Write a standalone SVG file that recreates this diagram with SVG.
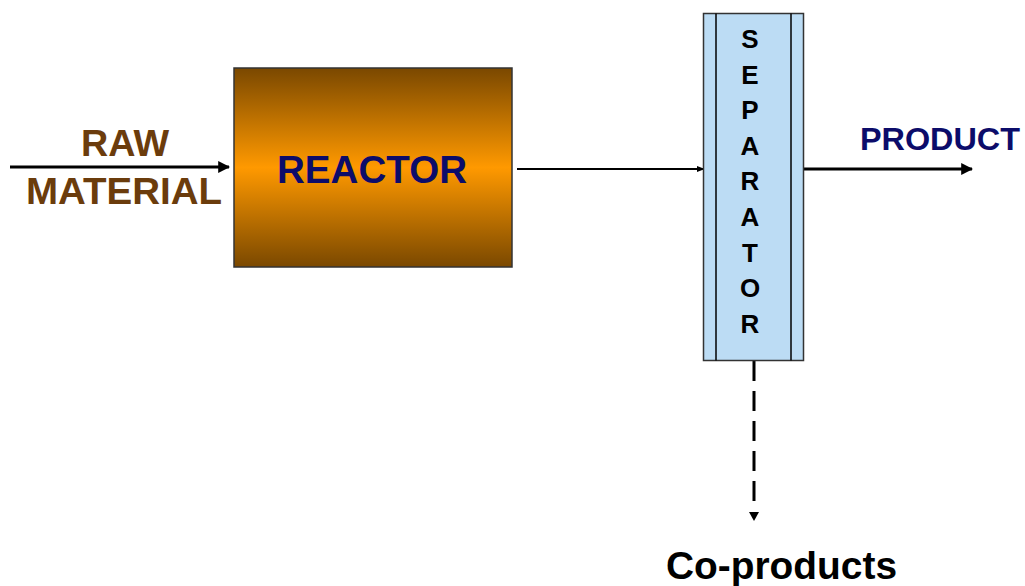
<svg xmlns="http://www.w3.org/2000/svg" width="1025" height="586" viewBox="0 0 1025 586">
<style>
text{font-family:"Liberation Sans",Arial,sans-serif;font-weight:bold}
.raw{fill:#6b3c0c;font-size:36px}
.navy{fill:#0c0c6a}
.sep{font-size:26px;fill:#000;text-anchor:middle}
.line{stroke:#000;fill:none}
</style>
<defs>
<linearGradient id="rg" x1="0" y1="0" x2="0" y2="1">
<stop offset="0" stop-color="#7a4800"/>
<stop offset="0.5" stop-color="#ff9900"/>
<stop offset="1" stop-color="#7a4800"/>
</linearGradient>
<marker id="ah" viewBox="0 0 10 10" refX="9" refY="5" markerWidth="4" markerHeight="4" orient="auto" markerUnits="strokeWidth"><path d="M0,0 L10,5 L0,10 z" fill="#000"/></marker>
<marker id="ah2" viewBox="0 0 10 10" refX="9" refY="5" markerWidth="4" markerHeight="4" orient="auto" markerUnits="strokeWidth"><path d="M0,1 L10,5 L0,9 z" fill="#000"/></marker>
</defs>
<g id="connectors">
<line class="line" x1="10" y1="167" x2="229" y2="167" stroke-width="3" marker-end="url(#ah)"/>
<line class="line" x1="517" y1="169" x2="704" y2="169" stroke-width="2" marker-end="url(#ah2)"/>
<line class="line" x1="804" y1="169" x2="972" y2="169" stroke-width="3" marker-end="url(#ah)"/>
<line class="line" x1="754" y1="361" x2="754" y2="506" stroke-width="3" stroke-dasharray="20,10"/>
<path d="M749,512 L759,512 L754,521 z" fill="#000"/>
</g>
<g id="raw-material">
<text class="raw" x="81" y="156" textLength="88" lengthAdjust="spacingAndGlyphs">RAW</text>
<text class="raw" x="26" y="204" textLength="196" lengthAdjust="spacingAndGlyphs">MATERIAL</text>
</g>
<g id="reactor">
<rect x="234" y="68" width="278" height="199" fill="url(#rg)" stroke="#333" stroke-width="1.5"/>
<text class="navy" x="277" y="183" font-size="38" textLength="190" lengthAdjust="spacingAndGlyphs">REACTOR</text>
</g>
<g id="separator">
<rect x="703.5" y="13.5" width="100" height="347" fill="#bcdcf4" stroke="#333" stroke-width="1.5"/>
<line x1="716" y1="13.5" x2="716" y2="360.5" stroke="#000" stroke-width="1.5"/>
<line x1="791" y1="13.5" x2="791" y2="360.5" stroke="#000" stroke-width="1.5"/>
<text class="sep" x="750" y="48">S</text>
<text class="sep" x="750" y="84">E</text>
<text class="sep" x="750" y="119">P</text>
<text class="sep" x="750" y="155">A</text>
<text class="sep" x="750" y="190">R</text>
<text class="sep" x="750" y="226">A</text>
<text class="sep" x="750" y="262">T</text>
<text class="sep" x="750" y="297">O</text>
<text class="sep" x="750" y="333">R</text>
</g>
<g id="product">
<text class="navy" x="860" y="150" font-size="32" textLength="160" lengthAdjust="spacingAndGlyphs">PRODUCT</text>
</g>
<g id="co-products">
<text x="666" y="579" font-size="38" fill="#000" textLength="231" lengthAdjust="spacingAndGlyphs">Co-products</text>
</g>
</svg>
